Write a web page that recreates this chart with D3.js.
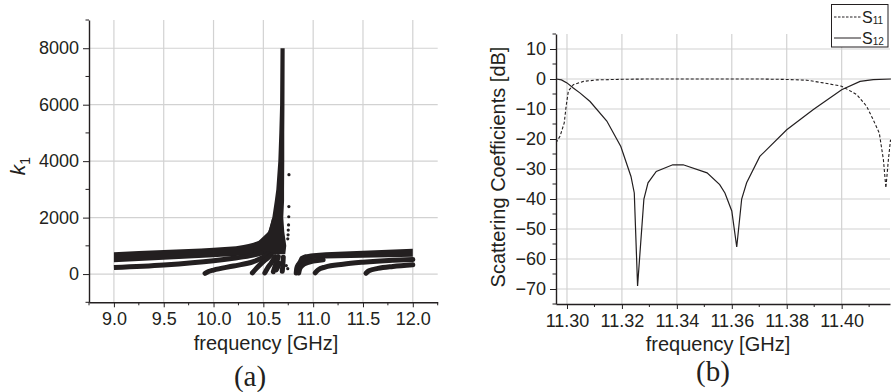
<!DOCTYPE html>
<html>
<head>
<meta charset="utf-8">
<script src="https://cdn.jsdelivr.net/npm/d3@7"></script>
<style>
  body { margin: 0; background: #fff; }
  svg text { fill: #231f20; }
</style>
</head>
<body>
<svg id="fig" width="891" height="392" font-family='"Liberation Sans", Arial, sans-serif'></svg>
<script>
// ---------- panel (a): k1 vs frequency ----------
const aFreqTicks = [9.0, 9.5, 10.0, 10.5, 11.0, 11.5, 12.0];
const aFreqMinor = [8.75, 9.25, 9.75, 10.25, 10.75, 11.25, 11.75, 12.25];
const aKTicks = [0, 2000, 4000, 6000, 8000];
const aKMinor = [-1000, 1000, 3000, 5000, 7000, 9000];

// main band below the resonance: upper and lower edge [freq, k1]
const leftBandTop = [[9.0, 772], [9.5, 850], [10.0, 930], [10.3, 1030], [10.4, 1110],
  [10.47, 1200], [10.52, 1350], [10.56, 1600], [10.59, 2000]];
const leftBandBottom = [[9.0, 420], [9.5, 510], [10.0, 600], [10.3, 660], [10.45, 720], [10.59, 900]];
// the spike at ~10.7 GHz: [k1, left freq, right freq]
const spike = [[700, 10.40, 10.72], [1000, 10.40, 10.73], [1500, 10.55, 10.71], [2000, 10.59, 10.70],
  [2600, 10.615, 10.708], [3000, 10.63, 10.708], [4000, 10.65, 10.71], [5000, 10.66, 10.71],
  [6000, 10.668, 10.712], [8000, 10.672, 10.714]];
// band above the resonance
const rightBandTop = [[10.845, 450], [10.87, 620], [10.92, 700], [11.0, 740], [11.5, 830], [12.0, 900]];
const rightBandBottom = [[10.85, 350], [10.88, 470], [10.95, 520], [11.0, 535], [11.5, 575], [12.0, 615]];
// thinner branches
const branches = [
  [[9.0, 230], [9.5, 320], [10.0, 470], [10.2, 560], [10.4, 670], [10.5, 760]],
  [[9.915, 25], [9.95, 90], [10.0, 142], [10.2, 285], [10.4, 440], [10.5, 600], [10.55, 720]],
  [[10.39, 40], [10.43, 200], [10.48, 380], [10.54, 560], [10.58, 680]],
  [[10.515, 40], [10.54, 200], [10.58, 400], [10.62, 620]],
  [[10.60, 80], [10.615, 250], [10.635, 450], [10.65, 620]],
  [[10.63, 150], [10.645, 250], [10.66, 380]],
  [[10.69, 100], [10.695, 300], [10.70, 600]],
  [[10.83, 40], [10.835, 200], [10.85, 330], [10.89, 460], [10.95, 520]],
  [[10.855, 40], [10.865, 180], [10.89, 300], [10.94, 400], [11.0, 460], [11.1, 510]],
  [[11.02, 40], [11.05, 150], [11.12, 250], [11.3, 350], [11.5, 420], [11.8, 490], [12.0, 520]],
  [[11.53, 30], [11.56, 120], [11.65, 200], [11.8, 270], [12.0, 330]]
];
const strayDots = [[10.757, 3520], [10.756, 2390], [10.755, 2030], [10.753, 1740],
  [10.75, 1560], [10.748, 1390], [10.745, 1250], [10.73, 300], [10.745, 190]];

// ---------- panel (b): scattering coefficients ----------
const bFreqTicks = [11.30, 11.32, 11.34, 11.36, 11.38, 11.40];
const bFreqMinor = [11.31, 11.33, 11.35, 11.37, 11.39, 11.41];
const bDbTicks = [-70, -60, -50, -40, -30, -20, -10, 0, 10];
const bDbMinor = [-75, -65, -55, -45, -35, -25, -15, -5, 5, 15];

const s11 = [[11.296, -21.3], [11.2975, -19], [11.299, -14.6], [11.2997, -9], [11.3005, -4],
  [11.3023, -1.9], [11.306, -0.8], [11.311, -0.3], [11.32, -0.1], [11.33, 0], [11.37, 0],
  [11.38, -0.15], [11.3873, -0.4], [11.3934, -1.3], [11.40, -2.4], [11.4055, -5.2],
  [11.4091, -9.1], [11.4115, -13.6], [11.4137, -18], [11.4152, -26.9], [11.4161, -36.3],
  [11.417, -27], [11.4178, -20.2]];
const s12 = [[11.296, 0], [11.298, -0.3], [11.300, -1.3], [11.3023, -3], [11.3048, -4.7],
  [11.3084, -7.5], [11.3145, -14], [11.3196, -22.5], [11.3233, -32.5], [11.3245, -38],
  [11.3257, -69], [11.328, -40], [11.3295, -34.6], [11.3325, -30.8], [11.3385, -28.6],
  [11.3423, -28.6], [11.351, -31.3], [11.3556, -35.2], [11.3575, -38], [11.36, -44],
  [11.3618, -56], [11.3636, -40], [11.3654, -34.6], [11.3702, -25.8], [11.38, -16.9],
  [11.3897, -10.2], [11.40, -3.6], [11.4067, -0.8], [11.4115, -0.2], [11.418, 0]];

const ink = "#231f20";
const gridColor = "#d2d2d2";
const serif = '"Liberation Serif", "Times New Roman", serif';
const svg = d3.select("#fig");

function drawGrid(g, x, y, xt, yt) {
  const [x0, x1] = x.range();
  const [y0, y1] = y.range();
  g.append("g").selectAll("line").data(xt).join("line")
    .attr("x1", d => x(d)).attr("x2", d => x(d)).attr("y1", y1).attr("y2", y0)
    .attr("stroke", gridColor).attr("stroke-width", 1.2);
  g.append("g").selectAll("line").data(yt).join("line")
    .attr("x1", x0).attr("x2", x1).attr("y1", d => y(d)).attr("y2", d => y(d))
    .attr("stroke", gridColor).attr("stroke-width", 1.2);
}

function drawAxes(g, x, y, xt, xm, yt, ym, xfmt) {
  const [y0] = y.range();
  const [x0] = x.range();
  const ax = g.append("g").attr("transform", `translate(0,${y0})`)
    .call(d3.axisBottom(x).tickValues(xt).tickFormat(xfmt).tickSize(5).tickSizeOuter(0).tickPadding(5));
  ax.append("g").selectAll("line").data(xm).join("line")
    .attr("x1", d => x(d)).attr("x2", d => x(d)).attr("y2", 3).attr("stroke", ink);
  const ay = g.append("g").attr("transform", `translate(${x0},0)`)
    .call(d3.axisLeft(y).tickValues(yt).tickFormat(d3.format("d")).tickSize(6).tickSizeOuter(0).tickPadding(4));
  ay.append("g").selectAll("line").data(ym).join("line")
    .attr("y1", d => y(d)).attr("y2", d => y(d)).attr("x2", -3.5).attr("stroke", ink);
  [ax, ay].forEach(a => {
    a.attr("font-family", null).attr("font-size", 18);
    a.select(".domain").attr("stroke", ink).attr("stroke-width", 1.4);
    a.selectAll(".tick line").attr("stroke", ink).attr("stroke-width", 1);
    a.selectAll("text").attr("fill", ink);
  });
}

// ---------- panel (a) ----------
const xa = d3.scaleLinear().domain([8.75, 12.25]).range([89, 437.7]);
const ya = d3.scaleLinear().domain([-1000, 9000]).range([302.3, 20]);
const ga = svg.append("g");
drawGrid(ga, xa, ya, aFreqTicks, aKTicks);

const bandArea = (top, bottom) => {
  // pair upper / lower edges on the frequencies
  const pts = top.map(d => d[0]).concat(bottom.map(d => d[0])).sort((a, b) => a - b);
  const fT = d3.scaleLinear().domain(top.map(d => d[0])).range(top.map(d => d[1])).clamp(true);
  const fB = d3.scaleLinear().domain(bottom.map(d => d[0])).range(bottom.map(d => d[1])).clamp(true);
  return pts.map(f => ({ f, t: fT(f), b: fB(f) }));
};
const area = d3.area().x(d => xa(d.f)).y0(d => ya(d.b)).y1(d => ya(d.t)).curve(d3.curveMonotoneX);
ga.append("path").attr("d", area(bandArea(leftBandTop, leftBandBottom))).attr("fill", ink);
ga.append("path").attr("d", area(bandArea(rightBandTop, rightBandBottom))).attr("fill", ink);

const spikeArea = d3.area().y(d => ya(d[0])).x0(d => xa(d[1])).x1(d => xa(d[2]));
ga.append("path").attr("d", spikeArea(spike)).attr("fill", ink);

const branchLine = d3.line().x(d => xa(d[0])).y(d => ya(d[1])).curve(d3.curveMonotoneX);
ga.append("g").selectAll("path").data(branches).join("path")
  .attr("d", branchLine).attr("fill", "none").attr("stroke", ink)
  .attr("stroke-width", 5).attr("stroke-linecap", (d, i) => i === 0 ? "butt" : "round");
ga.append("g").selectAll("circle").data(strayDots).join("circle")
  .attr("cx", d => xa(d[0])).attr("cy", d => ya(d[1])).attr("r", 1.6).attr("fill", ink);

drawAxes(ga, xa, ya, aFreqTicks, aFreqMinor, aKTicks, aKMinor, d3.format(".1f"));

ga.append("text").attr("x", 266).attr("y", 350).attr("text-anchor", "middle")
  .attr("font-size", 20).text("frequency [GHz]");
const ka = ga.append("text").attr("transform", "translate(25,166) rotate(-90)")
  .attr("text-anchor", "middle").attr("font-size", 21);
ka.append("tspan").attr("font-style", "italic").text("k");
ka.append("tspan").attr("font-size", 14).attr("dy", 5).text("1");
ga.append("text").attr("x", 250).attr("y", 386).attr("text-anchor", "middle")
  .attr("font-family", serif).attr("font-size", 29).text("(a)");

// ---------- panel (b) ----------
const xb = d3.scaleLinear().domain([11.296, 11.4176]).range([556, 890]);
const yb = d3.scaleLinear().domain([-75, 15]).range([304, 34]);
const gb = svg.append("g");
drawGrid(gb, xb, yb, bFreqTicks, bDbTicks);

gb.append("clipPath").attr("id", "clipb").append("rect")
  .attr("x", 556).attr("y", 34).attr("width", 336).attr("height", 270);
const sLine = d3.line().x(d => xb(d[0])).y(d => yb(d[1]));
gb.append("path").attr("clip-path", "url(#clipb)").attr("d", sLine(s11))
  .attr("fill", "none").attr("stroke", ink).attr("stroke-width", 1.1).attr("stroke-dasharray", "3,2");
gb.append("path").attr("clip-path", "url(#clipb)").attr("d", sLine(s12))
  .attr("fill", "none").attr("stroke", ink).attr("stroke-width", 1.2);

drawAxes(gb, xb, yb, bFreqTicks, bFreqMinor, bDbTicks, bDbMinor, d3.format(".2f"));

gb.append("text").attr("x", 718).attr("y", 351).attr("text-anchor", "middle")
  .attr("font-size", 20).text("frequency [GHz]");
gb.append("text").attr("transform", "translate(505,167) rotate(-90)")
  .attr("text-anchor", "middle").attr("font-size", 20).text("Scattering Coefficients [dB]");
gb.append("text").attr("x", 713).attr("y", 381).attr("text-anchor", "middle")
  .attr("font-family", serif).attr("font-size", 29).text("(b)");

// legend
const legendItems = [{ name: "11", dash: "2.5,1.5", y: 17 }, { name: "12", dash: null, y: 38 }];
const lg = svg.append("g");
lg.append("rect").attr("x", 831.5).attr("y", 4.5).attr("width", 56.5).attr("height", 42.5)
  .attr("fill", "#fff").attr("stroke", ink).attr("stroke-width", 1);
legendItems.forEach(it => {
  lg.append("line").attr("x1", 834).attr("x2", 861).attr("y1", it.y).attr("y2", it.y)
    .attr("stroke", ink).attr("stroke-width", 1).attr("stroke-dasharray", it.dash);
  const t = lg.append("text").attr("x", 862).attr("y", it.y + 6).attr("font-size", 16);
  t.append("tspan").text("S");
  t.append("tspan").attr("font-size", 10).attr("dy", 1).text(it.name);
});
</script>
</body>
</html>
